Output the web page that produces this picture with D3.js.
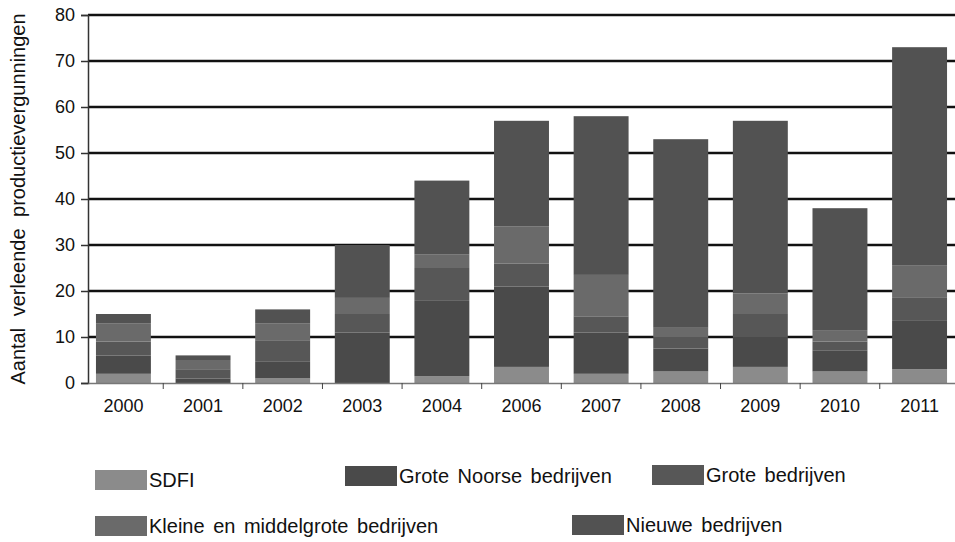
<!DOCTYPE html>
<html>
<head>
<meta charset="utf-8">
<script src="https://cdn.jsdelivr.net/npm/d3@7"></script>
<style>
  body { margin: 0; background: #fff; }
  text { font-family: "Liberation Sans", Arial, sans-serif; }
</style>
</head>
<body>
<div id="chart"></div>
<script>
const years = ['2000', '2001', '2002', '2003', '2004', '2006', '2007', '2008', '2009', '2010', '2011'];
const series = ['SDFI', 'Grote Noorse bedrijven', 'Grote bedrijven', 'Kleine en middelgrote bedrijven', 'Nieuwe bedrijven'];

// values per series, bottom to top of the stack
const sdfi    = [2,   0, 1,   0,    1.5,  3.5,  2,    2.5, 3.5,  2.5, 3];
const noorse  = [4,   1, 3.6, 11,   16.5, 17.5, 9,    5,   6.5,  4.5, 10.5];
const grote   = [3,   2, 4.7, 4,    7,    5,    3.5,  2.5, 5,    2,   5];
const kleine  = [4,   2, 3.7, 3.5,  3,    8,    9,    2,   4.5,  2.5, 7];
const nieuwe  = [2,   1, 3,   11.5, 16,   23,   34.5, 41,  37.5, 26.5, 47.5];
const yTicks = [0, 10, 20, 30, 40, 50, 60, 70, 80];

const colors = ['#8b8b8b', '#4a4a4a', '#575757', '#6a6a6a', '#525252'];

const width = 955;
const height = 542;
const margin = { top: 15, right: 0, bottom: 159, left: 88 };

const table = years.map((y, i) => ({
  year: y,
  'SDFI': sdfi[i],
  'Grote Noorse bedrijven': noorse[i],
  'Grote bedrijven': grote[i],
  'Kleine en middelgrote bedrijven': kleine[i],
  'Nieuwe bedrijven': nieuwe[i]
}));

const stacked = d3.stack().keys(series)(table);

const svg = d3.select('#chart')
  .append('svg')
  .attr('width', width)
  .attr('height', height);

const x = d3.scaleBand()
  .domain(years)
  .range([margin.left, width - margin.right])
  .paddingInner(0.31)
  .paddingOuter(0.1);

const y = d3.scaleLinear()
  .domain([0, 80])
  .range([height - margin.bottom, margin.top]);

const color = d3.scaleOrdinal().domain(series).range(colors);

// gridlines
svg.append('g')
  .selectAll('line')
  .data(yTicks.filter(d => d > 0))
  .join('line')
    .attr('x1', margin.left)
    .attr('x2', width)
    .attr('y1', d => y(d))
    .attr('y2', d => y(d))
    .attr('stroke', '#111')
    .attr('stroke-width', 2.5);

// bars
svg.append('g')
  .selectAll('g')
  .data(stacked)
  .join('g')
    .attr('fill', d => color(d.key))
  .selectAll('rect')
  .data(d => d)
  .join('rect')
    .attr('x', d => x(d.data.year))
    .attr('y', d => y(d[1]))
    .attr('height', d => y(d[0]) - y(d[1]))
    .attr('width', x.bandwidth());

// y axis
const yAxis = svg.append('g')
  .attr('transform', `translate(${margin.left},0)`)
  .call(d3.axisLeft(y).tickValues(yTicks).tickSize(7).tickPadding(6));
yAxis.select('.domain').attr('stroke', '#333').attr('stroke-width', 1.5);
yAxis.selectAll('.tick line').attr('stroke', '#333').attr('stroke-width', 1.5);
yAxis.selectAll('.tick text')
  .attr('font-size', '18px')
  .attr('fill', '#111')
  .style('font-family', '"Liberation Sans", Arial, sans-serif');

// x axis
const step = x.step();
const xAxis = svg.append('g')
  .attr('transform', `translate(0,${y(0)})`)
  .call(d3.axisBottom(x).tickSize(0).tickPadding(16));
xAxis.select('.domain').attr('stroke', '#777').attr('stroke-width', 1.5);
xAxis.selectAll('.tick text')
  .attr('font-size', '18px')
  .attr('fill', '#111')
  .style('font-family', '"Liberation Sans", Arial, sans-serif');
xAxis.selectAll('.tick')
  .append('line')
    .attr('x1', x.bandwidth() / 2 + (step - x.bandwidth()) / 2)
    .attr('x2', x.bandwidth() / 2 + (step - x.bandwidth()) / 2)
    .attr('y1', 0)
    .attr('y2', 6)
    .attr('stroke', '#444');

// y label
svg.append('text')
  .attr('transform', `translate(25,${(y(0) + y(80)) / 2}) rotate(-90)`)
  .attr('text-anchor', 'middle')
  .attr('font-size', '20px')
  .attr('fill', '#111')
  .attr('word-spacing', '6px')
  .text('Aantal verleende productievergunningen');

// legend
const legendPos = [
  { x: 95, y: 470 },
  { x: 345, y: 466 },
  { x: 652, y: 465 },
  { x: 95, y: 516 },
  { x: 572, y: 515 }
];
const legend = svg.append('g')
  .selectAll('g')
  .data(series)
  .join('g')
    .attr('transform', (d, i) => `translate(${legendPos[i].x},${legendPos[i].y})`);
legend.append('rect')
  .attr('width', 52)
  .attr('height', 20)
  .attr('fill', d => color(d));
legend.append('text')
  .attr('x', 54)
  .attr('y', 17)
  .attr('font-size', '20px')
  .attr('word-spacing', '3px')
  .attr('fill', '#111')
  .text(d => d);
</script>
</body>
</html>
